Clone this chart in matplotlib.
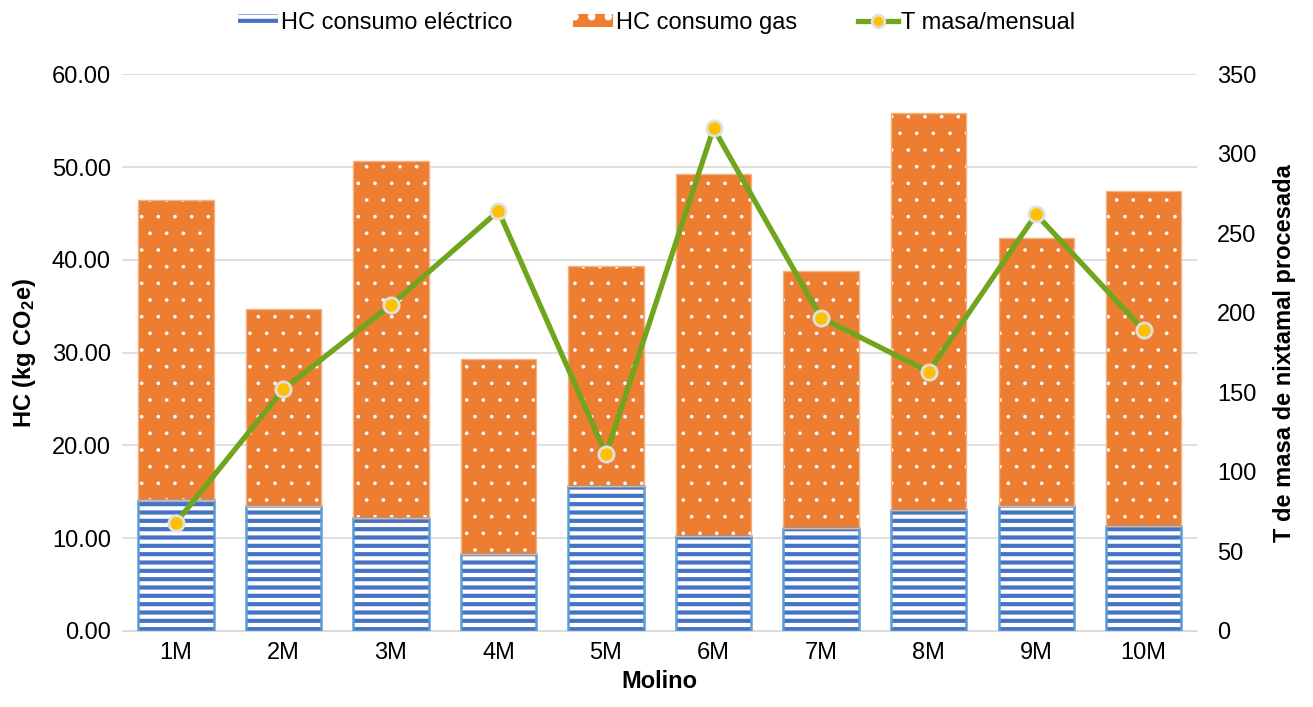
import matplotlib.pyplot as plt
import numpy as np
from matplotlib.patches import Patch
from matplotlib.lines import Line2D
from matplotlib.ticker import FormatStrFormatter, MultipleLocator

plt.rcParams['font.family'] = ['Liberation Sans', 'DejaVu Sans']
plt.rcParams['mathtext.fontset'] = 'custom'
plt.rcParams['mathtext.default'] = 'regular'
plt.rcParams['hatch.linewidth'] = 3.0

# Datos
molinos = ['1M', '2M', '3M', '4M', '5M', '6M', '7M', '8M', '9M', '10M']
hc_electrico = [14.1, 13.5, 12.2, 8.3, 15.6, 10.2, 11.1, 13.0, 13.5, 11.3]
hc_total = [46.4, 34.7, 50.7, 29.3, 39.3, 49.3, 38.8, 55.8, 42.3, 47.4]
hc_gas = [t - e for t, e in zip(hc_total, hc_electrico)]
t_masa = [68, 152, 205, 264, 111, 316, 197, 163, 262, 189]

azul = '#4472C4'
azul_borde = '#5B9BD5'
naranja = '#ED7D31'
verde = '#6FA61E'
oro = '#FFC000'
fs = 17

fig = plt.figure(figsize=(13.13, 7.07), dpi=100)
ax = fig.add_axes([0.093, 0.1075, 0.819, 0.7875])
x = np.arange(len(molinos))
ancho = 0.7

# barras eléctrico: rayas azules sobre blanco
ax.bar(x, hc_electrico, ancho, color='white', edgecolor=azul, hatch='--', linewidth=0, zorder=2)
ax.bar(x, hc_electrico, ancho, fill=False, edgecolor=azul_borde, linewidth=1.8, zorder=3)
# barras gas: naranja con puntos blancos
b2 = ax.bar(x, hc_gas, ancho, bottom=hc_electrico, color=naranja, edgecolor='white', hatch='.', linewidth=0, zorder=2)
ax.bar(x, hc_gas, ancho, bottom=hc_electrico, fill=False, edgecolor='#F4B183', linewidth=1.0, zorder=3)

if hasattr(b2.patches[0], 'set_hatch_linewidth'):
    for p in b2.patches:
        p.set_hatch_linewidth(0.2)

ax.set_xlim(-0.5, len(molinos) - 0.5)
ax.set_ylim(0, 60)
ax.yaxis.set_major_locator(MultipleLocator(10))
ax.yaxis.set_major_formatter(FormatStrFormatter('%.2f'))
ax.set_xticks(x)
ax.set_xticklabels(molinos)
ax.grid(axis='y', color='#D9D9D9', linewidth=1.2, zorder=0)
ax.set_axisbelow(True)
for s in ['top', 'right', 'left']:
    ax.spines[s].set_visible(False)
ax.spines['bottom'].set_color('#D9D9D9')
ax.tick_params(axis='both', length=0, labelsize=fs, pad=8)
ax.set_ylabel('HC (kg CO$_2$e)', fontsize=fs, fontweight='bold', labelpad=10)
ax.set_xlabel('Molino', fontsize=fs, fontweight='bold', labelpad=4)

ax2 = ax.twinx()
ax2.plot(x, t_masa, color=verde, linewidth=3.8, marker='o', markersize=11,
         markerfacecolor=oro, markeredgecolor='#E0E0E0', markeredgewidth=2, zorder=5)
ax2.set_ylim(0, 350)
ax2.yaxis.set_major_locator(MultipleLocator(50))
for s in ['top', 'right', 'left', 'bottom']:
    ax2.spines[s].set_visible(False)
ax2.tick_params(axis='y', length=0, labelsize=fs, pad=14)
ax2.set_ylabel('T de masa de nixtamal procesada', fontsize=fs, fontweight='bold', labelpad=12)

handles = [
    Patch(facecolor='white', edgecolor=azul, hatch='--', linewidth=0),
    Patch(facecolor=naranja, edgecolor='white', hatch='.', linewidth=0),
    Line2D([0], [0], color=verde, linewidth=3.8, marker='o', markersize=9,
           markerfacecolor=oro, markeredgecolor='#E0E0E0', markeredgewidth=2),
]
fig.legend(handles, ['HC consumo eléctrico', 'HC consumo gas', 'T masa/mensual'],
           loc='center', bbox_to_anchor=(0.5, 0.968), ncol=3, frameon=False,
           fontsize=fs, handlelength=1.7, handleheight=0.5, handletextpad=0.1,
           columnspacing=2.6)

fig.savefig('out.png', dpi=100)
